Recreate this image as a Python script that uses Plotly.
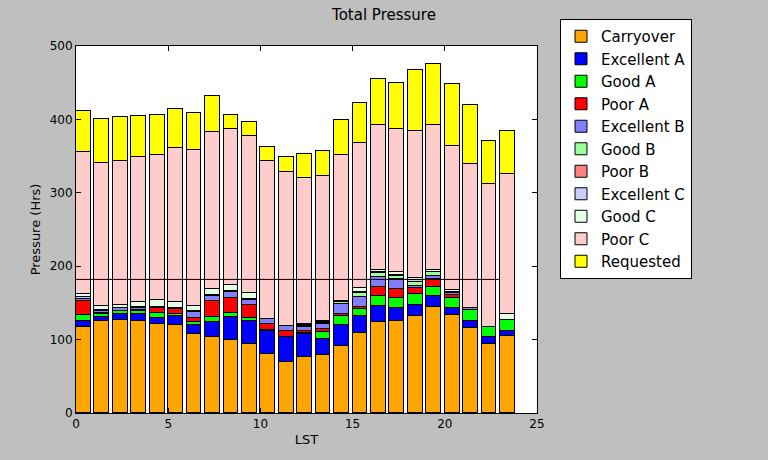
import plotly.graph_objects as go

hours = list(range(24))

carryover   = [117,125,127,126,121,120,107,104,100,93.5,80.5,70,76,79.5,91,109,124,125,132,144,133,116,94,104.5]
excellent_a = [8,6,7.5,8.5,9,11.5,13,20,31,32,31.5,33,32,21.5,29.5,23,22,18,15.5,15.5,10,10,10,7.5]
good_a      = [8,4.5,4.5,5,6.5,3,3.5,6.5,5,3.5,0.5,1,0.5,9.5,11,9.5,13,13.5,14.5,12.5,13.5,14.5,12.5,15]
poor_a      = [20,1,0.5,1,6,7,6,21.5,20.5,18.5,9,8,3,3.5,3,3,13,12,8,10,4,0.5,0,0]
excellent_b = [2,3,3,2,2,1,8,7.5,8.5,6.5,6,6,6,7,13.5,14,13.5,14,3,4,3,1.5,0,0]
good_b      = [0,0,0,0,0,0,0,0,0,0,0,0,1.5,2,3.5,5,5.5,3.5,5,5.5,0,0,0,0]
poor_b      = [0,0,0,0,0,0,0,0,0,0,0,0,0,0,0,0,0,1,1,0,0,0,0,0]
excellent_c = [2.5,1,0.5,1.5,0.5,0,1,1,1,1,1,1,1,1,0.5,2,1,1.5,2,0.5,1.5,0,0,0]
good_c      = [4.5,5,4.5,7,9,8.5,7,9,9,8.5,0,0,1,1,0.5,4.5,3,3.5,3,2.5,2,0.5,0,8]
poor_c      = [194,194.5,196.3,198,197.5,210,212.5,213.8,212.4,213.4,214.8,209.8,198.7,198.3,199,197.4,197.4,195.1,199.8,197.9,196.8,195.8,195,190.7]
requested   = [56,60,59,56,54,53.5,50.5,48,18,20,19,20.4,33.6,34,47.2,55.4,62.6,62.6,83,83.5,85,80.8,58.5,59]

threshold_x = [0, 23]
threshold_y = [182, 182]

series = [
    ("Carryover", carryover, "#FFA500"),
    ("Excellent A", excellent_a, "#0000FF"),
    ("Good A", good_a, "#00FF00"),
    ("Poor A", poor_a, "#FF0000"),
    ("Excellent B", excellent_b, "#8080FF"),
    ("Good B", good_b, "#99FF99"),
    ("Poor B", poor_b, "#FF8080"),
    ("Excellent C", excellent_c, "#CCCCFF"),
    ("Good C", good_c, "#E5FFE5"),
    ("Poor C", poor_c, "#FFCCCC"),
    ("Requested", requested, "#FFFF00"),
]

bar_width = 0.8
centers = [h + bar_width / 2 for h in hours]

fig = go.Figure()
for name, vals, color in series:
    fig.add_trace(go.Bar(
        x=centers, y=vals, width=bar_width, name=name,
        marker=dict(color=color, line=dict(color="black", width=1)),
    ))

fig.add_trace(go.Scatter(
    x=threshold_x, y=threshold_y, mode="lines",
    line=dict(color="black", width=1), showlegend=False, hoverinfo="skip",
))

font = "DejaVu Sans, Arial, sans-serif"
axis_common = dict(
    showline=True, linecolor="black", linewidth=1, mirror="ticks",
    ticks="inside", ticklen=5, tickcolor="black", showgrid=False, zeroline=False,
    automargin=False,
    tickfont=dict(family=font, size=12, color="black"),
)

fig.update_layout(
    width=768, height=460,
    paper_bgcolor="#BFBFBF", plot_bgcolor="white",
    barmode="stack", bargap=0,
    margin=dict(l=76, r=231, t=46, b=47, autoexpand=False),
    title=dict(text="Total Pressure", x=0.5, xanchor="center",
               y=1 - 15 / 460, yanchor="middle",
               font=dict(family=font, size=15, color="black")),
    xaxis=dict(range=[0, 25], tickvals=[0, 5, 10, 15, 20, 25],
               title=dict(text="LST", standoff=4, font=dict(family=font, size=13, color="black")),
               **axis_common),
    yaxis=dict(range=[0, 500], tickvals=[0, 100, 200, 300, 400, 500],
               title=dict(text="Pressure (Hrs)", standoff=6, font=dict(family=font, size=13, color="black")),
               **axis_common),
    legend=dict(x=(560 - 76) / 461, y=(413 - 19) / 367, xanchor="left", yanchor="top",
                bgcolor="white", bordercolor="black", borderwidth=1,
                font=dict(family=font, size=15, color="black"),
                traceorder="normal", tracegroupgap=0, maxheight=400),
    showlegend=True,
)

fig.write_html("out.html", config={"displayModeBar": False},
               post_script="document.body.style.margin='0';")
